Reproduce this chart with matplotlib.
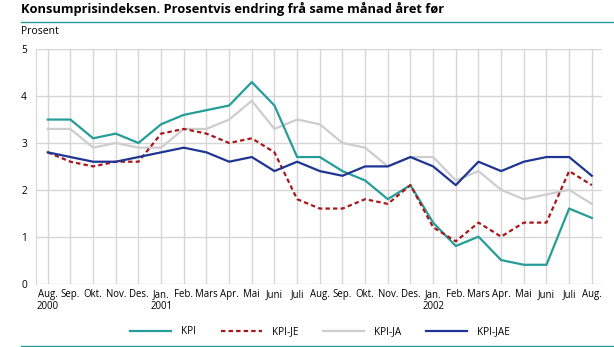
import matplotlib
matplotlib.use("Agg")
import matplotlib.pyplot as plt
from matplotlib.lines import Line2D

plt.rcParams['font.family'] = ['Open Sans', 'DejaVu Sans']

months = ['Aug.', 'Sep.', 'Okt.', 'Nov.', 'Des.', 'Jan.', 'Feb.', 'Mars', 'Apr.',
          'Mai', 'Juni', 'Juli', 'Aug.', 'Sep.', 'Okt.', 'Nov.', 'Des.', 'Jan.',
          'Feb.', 'Mars', 'Apr.', 'Mai', 'Juni', 'Juli', 'Aug.']
years = {0: '2000', 5: '2001', 17: '2002'}

kpi = [3.5, 3.5, 3.1, 3.2, 3.0, 3.4, 3.6, 3.7, 3.8, 4.3, 3.8, 2.7, 2.7,
       2.4, 2.2, 1.8, 2.1, 1.3, 0.8, 1.0, 0.5, 0.4, 0.4, 1.6, 1.4]
kpi_je = [2.8, 2.6, 2.5, 2.6, 2.6, 3.2, 3.3, 3.2, 3.0, 3.1, 2.8, 1.8, 1.6,
          1.6, 1.8, 1.7, 2.1, 1.2, 0.9, 1.3, 1.0, 1.3, 1.3, 2.4, 2.1]
kpi_ja = [3.3, 3.3, 2.9, 3.0, 2.9, 2.9, 3.3, 3.3, 3.5, 3.9, 3.3, 3.5, 3.4,
          3.0, 2.9, 2.5, 2.7, 2.7, 2.2, 2.4, 2.0, 1.8, 1.9, 2.0, 1.7]
kpi_jae = [2.8, 2.7, 2.6, 2.6, 2.7, 2.8, 2.9, 2.8, 2.6, 2.7, 2.4, 2.6, 2.4,
           2.3, 2.5, 2.5, 2.7, 2.5, 2.1, 2.6, 2.4, 2.6, 2.7, 2.7, 2.3]

teal = '#259d99'
W, H = 614, 347
fig = plt.figure(figsize=(W / 100, H / 100), dpi=100)
ax = fig.add_axes([36 / W, 1 - 283.5 / H, 566 / W, 234.2 / H])

x = list(range(len(months)))
ax.plot(x, kpi_ja, color='#cdcdcd', lw=1.6, label='KPI-JA', zorder=3)
ax.plot(x, kpi, color=teal, lw=1.6, label='KPI', zorder=4)
ax.plot(x, kpi_je, color='#a8181b', lw=1.6, dashes=(2.0, 1.4), label='KPI-JE', zorder=5)
ax.plot(x, kpi_jae, color='#1f3592', lw=1.6, label='KPI-JAE', zorder=6)

ax.set_xlim(-0.52, 24.45)
ax.set_ylim(0, 5)
ax.set_yticks(range(6))
ax.set_xticks(x)
ax.set_xticklabels([m + ('\n' + years[i] if i in years else '') for i, m in enumerate(months)],
                   fontsize=6.9, linespacing=1.12)
ax.tick_params(axis='both', length=0, colors='black')
ax.tick_params(axis='x', pad=4)
ax.tick_params(axis='y', pad=6.5, labelsize=7.3)

ax.grid(True, color='#d6d6d6', lw=1.0, zorder=0)
for s in ['top', 'right', 'bottom']:
    ax.spines[s].set_visible(False)
ax.spines['left'].set_color('#d6d6d6')

fig.text(21 / W, 1 - 2 / H, 'Konsumprisindeksen. Prosentvis endring frå same månad året før',
         fontsize=9.3, fontweight='bold', va='top', ha='left')
fig.text(21 / W, 1 - 25.5 / H, 'Prosent', fontsize=7.5, va='top', ha='left')
fig.add_artist(Line2D([21 / W, 1], [1 - 21.7 / H] * 2, color=teal, lw=1.0))
fig.add_artist(Line2D([21 / W, 1], [1 - 345.5 / H] * 2, color=teal, lw=1.0))

handles, labels = ax.get_legend_handles_labels()
order = [1, 2, 0, 3]
fig.legend([handles[i] for i in order], [labels[i] for i in order], ncol=4,
           loc='center', bbox_to_anchor=(0.521, 1 - 331.5 / H), frameon=False,
           fontsize=7.2, handlelength=4.1, handletextpad=1.0, columnspacing=2.5)

fig.savefig('out.png', dpi=100)
